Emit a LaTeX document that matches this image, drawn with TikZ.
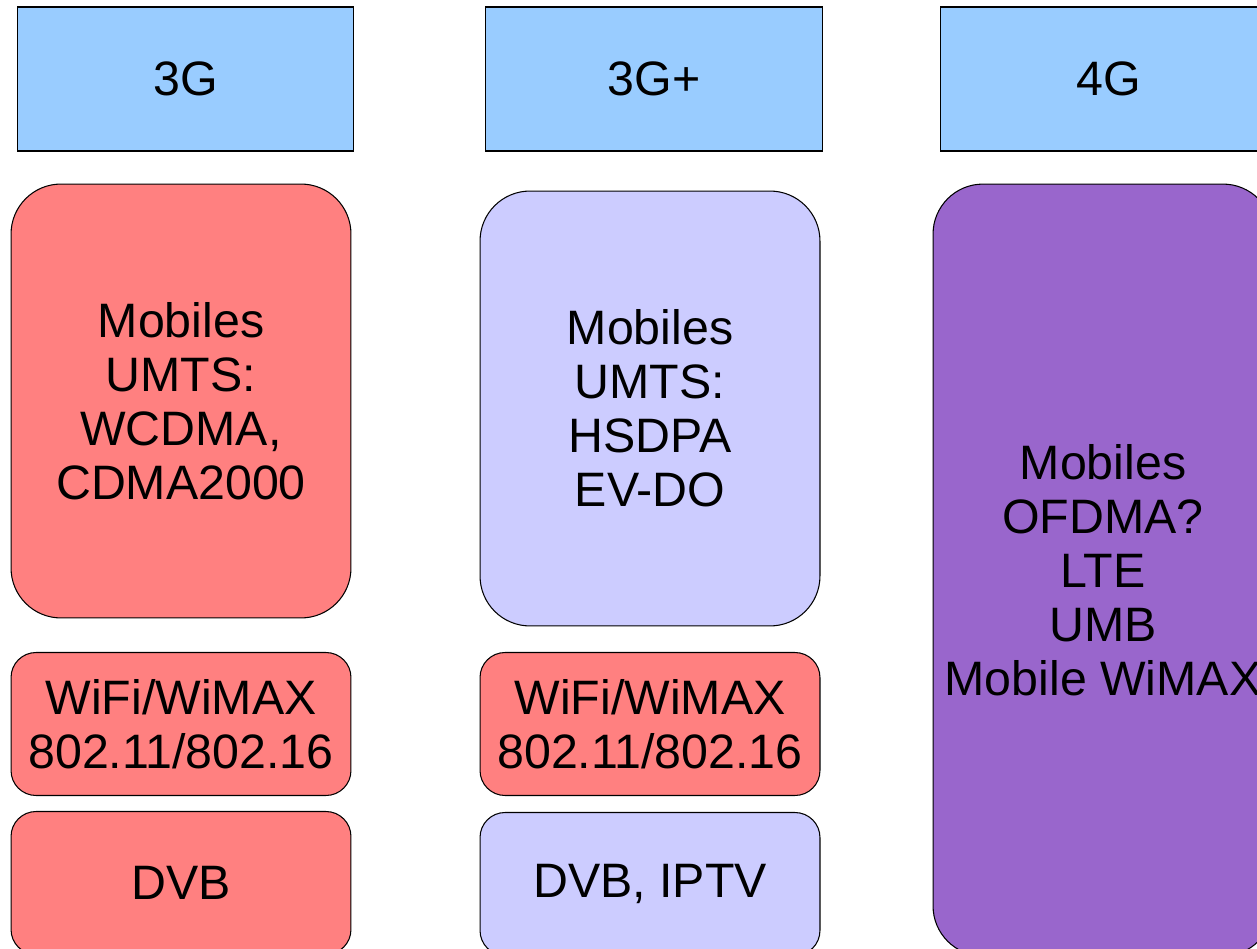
\documentclass[tikz,border=0pt]{standalone}
\usepackage{fontspec}
\setmainfont{Liberation Sans}
\definecolor{genblue}{HTML}{99CCFF}
\definecolor{techred}{HTML}{FF8080}
\definecolor{techlav}{HTML}{CCCCFF}
\definecolor{techpurple}{HTML}{9966CC}
\begin{document}
\begin{tikzpicture}[x=0.02cm,y=-0.02cm,line width=0.6pt,
    every node/.style={font=\fontsize{27.5}{30.8}\selectfont,align=center,outer sep=0pt,inner sep=0pt},
    gen/.style={draw,fill=genblue,minimum width=6.74cm,minimum height=2.88cm},
    tech/.style={draw,rounded corners=1cm,minimum width=6.8cm},
    small/.style={draw,rounded corners=0.5cm,minimum width=6.8cm,minimum height=2.86cm}]

    \clip (0,0) rectangle (1257,949);
    \useasboundingbox (0,0) rectangle (1257,949);

    \node [gen] (g3) at (185.5,79) {3G};
    \node [gen] (g3p) at (654,79) {3G+};
    \node [gen] (g4) at (1108.5,79) {4G};

    \node [tech,fill=techred,minimum height=8.68cm] (m3) at (181,401) {Mobiles\\UMTS:\\WCDMA,\\CDMA2000};
    \node [tech,fill=techlav,minimum height=8.7cm] (m3p) at (650,408.5) {Mobiles\\UMTS:\\HSDPA\\EV-DO};
    \node [tech,fill=techpurple,minimum height=15.44cm] (m4) at (1103,570) {Mobiles\\OFDMA?\\LTE\\UMB\\Mobile WiMAX};

    \node [small,fill=techred] (w3) at (181,724) {WiFi/WiMAX\\802.11/802.16};
    \node [small,fill=techred] (w3p) at (650,724) {WiFi/WiMAX\\802.11/802.16};

    \node [small,fill=techred] (d3) at (181,883) {DVB};
    \node [small,fill=techlav] (d3p) at (650,884) {DVB, IPTV};

\end{tikzpicture}
\end{document}
